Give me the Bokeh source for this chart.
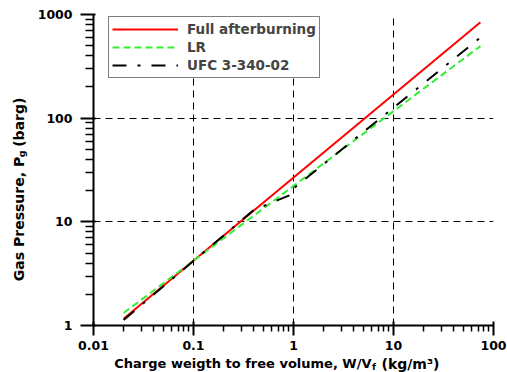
import math
from bokeh.plotting import figure
from bokeh.layouts import column, row
from bokeh.models import Range1d, FixedTicker, CustomJSTickFormatter
from bokeh.core.properties import value
from bokeh.embed import file_html
from bokeh.resources import INLINE

# ---- data ----
full_x = [0.02, 74]
full_y = [1.16, 840]
lr_x = [0.02, 74]
lr_y = [1.32, 495]
ufc_x = [0.02, 0.4, 1.0, 1.0, 74]
ufc_y = [1.13, 13.0, 18.7, 21.0, 600]

series_names = ["Full afterburning", "LR", "UFC 3-340-02"]

x_major = [0.01, 0.1, 1, 10, 100]
y_major = [1, 10, 100, 1000]

x_title = ["Charge weigth to free volume, W/V", "f", "(kg/m³)"]
y_title = ["Gas Pressure, P", "g", "(barg)"]

FONT = "DejaVu Sans"
W, H = 507, 372
YT_W = 30          # width of the strip holding the y title
XT_H = 17          # height of the strip holding the x title


def minor_ticks(majors):
    out = []
    for m in majors[:-1]:
        out += [m * k for k in range(2, 10)]
    return out


def blank_fig(w, h):
    f = figure(width=w, height=h, x_range=Range1d(0, w), y_range=Range1d(0, h),
               output_backend="svg", toolbar_location=None,
               x_axis_location=None, y_axis_location=None,
               min_border=0)
    f.outline_line_color = None
    f.grid.grid_line_color = None
    f.background_fill_color = "white"
    f.border_fill_color = "white"
    return f


MAIN_H = H - XT_H
p = figure(width=W - YT_W, height=MAIN_H, x_axis_type="log", y_axis_type="log",
           x_range=Range1d(0.01, 100), y_range=Range1d(1, 1000),
           output_backend="svg", toolbar_location=None,
           min_border_left=93 - YT_W, min_border_right=14,
           min_border_top=14, min_border_bottom=MAIN_H - 325)
p.outline_line_color = None
p.background_fill_color = "white"
p.border_fill_color = "white"

# lines
p.line(full_x, full_y, color="#ff0000", line_width=2, legend_label=series_names[0])
p.line(lr_x, lr_y, color="#33ee33", line_width=2, line_dash="7 4", legend_label=series_names[1])
p.line(ufc_x, ufc_y, color="black", line_width=2, line_dash="14 11 3 11", legend_label=series_names[2])

fmt = CustomJSTickFormatter(code="return tick.toString();")

for ax, majors in ((p.xaxis[0], x_major), (p.yaxis[0], y_major)):
    ax.ticker = FixedTicker(ticks=majors, minor_ticks=minor_ticks(majors))
    ax.formatter = fmt
    ax.axis_line_width = 2
    ax.axis_line_color = "black"
    ax.major_tick_line_width = 2
    ax.major_tick_line_color = "black"
    ax.minor_tick_line_width = 1.5
    ax.minor_tick_line_color = "black"
    ax.major_label_text_font = FONT
    ax.major_label_text_font_style = "bold"
    ax.major_label_text_font_size = "12.5px"
    ax.major_label_text_color = "black"

p.xaxis.major_tick_out = 10
p.xaxis.major_tick_in = 4
p.xaxis.minor_tick_out = 6
p.xaxis.minor_tick_in = 0
p.xaxis.major_label_standoff = 5

p.yaxis.major_tick_out = 13
p.yaxis.major_tick_in = 2
p.yaxis.minor_tick_out = 8
p.yaxis.minor_tick_in = 0
p.yaxis.major_label_standoff = 8

for g in (p.xgrid[0], p.ygrid[0]):
    g.grid_line_color = "black"
    g.grid_line_dash = "7 5"
    g.grid_line_width = 1

# legend
lg = p.legend[0]
lg.location = (15, 247)
lg.margin = 0
lg.padding = 3
lg.spacing = 0
lg.label_height = 18
lg.glyph_height = 18
lg.glyph_width = 66
lg.label_width = 128
lg.label_standoff = 9
lg.label_text_font = FONT
lg.label_text_font_style = "bold"
lg.label_text_font_size = "13.5px"
lg.border_line_color = "black"
lg.border_line_width = 1.2
lg.background_fill_color = "white"
lg.background_fill_alpha = 1

tkw = dict(text_font=value(FONT), text_font_style="bold", text_color="black",
           text_baseline="alphabetic")

# x title strip (coordinates are pixels within the strip, y up)
xf = blank_fig(W, XT_H)
base = 9
xf.text(x=[371], y=[base], text=[x_title[0]], text_align="right", text_font_size="13px", **tkw)
xf.text(x=[371.5], y=[base - 3], text=[x_title[1]], text_align="left", text_font_size="9px", **tkw)
xf.text(x=[381], y=[base], text=[x_title[2]], text_align="left", text_font_size="14px", **tkw)

# y title strip (rotated text, reads bottom to top)
yf = blank_fig(YT_W, MAIN_H)
ang = math.pi / 2
yf.text(x=[18], y=[MAIN_H - 162.5], text=[y_title[0]], angle=ang, text_align="right",
        text_font_size="14px", **tkw)
yf.text(x=[21], y=[MAIN_H - 163], text=[y_title[1]], angle=ang, text_align="left",
        text_font_size="9.5px", **tkw)
yf.text(x=[18], y=[MAIN_H - 151], text=[y_title[2]], angle=ang, text_align="left",
        text_font_size="14px", **tkw)

layout = column(row(yf, p, spacing=0), xf, spacing=0)
open("out.html", "w").write(file_html(layout, INLINE))
